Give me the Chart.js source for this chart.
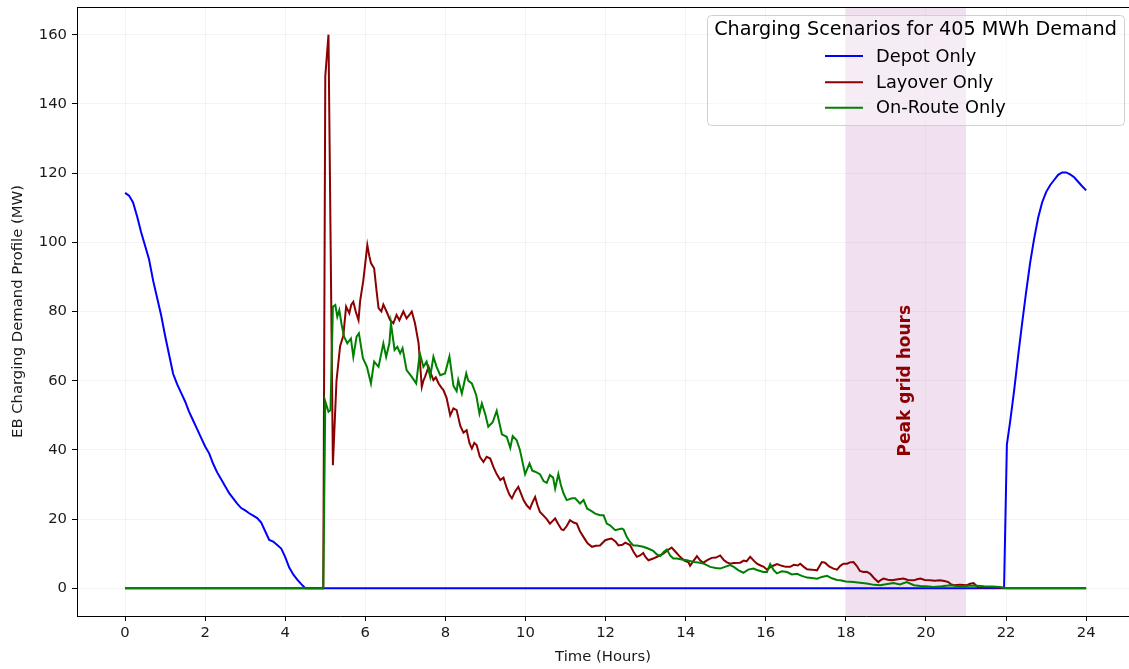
<!DOCTYPE html>
<html>
<head>
<meta charset="utf-8">
<script src="https://cdn.jsdelivr.net/npm/chart.js@4"></script>
<style>
  html, body { margin: 0; padding: 0; background: #fff; overflow: hidden; }
  #wrap { width: 1129px; height: 669px; }
</style>
</head>
<body>
<div id="wrap"><canvas id="c" width="1129" height="669"></canvas></div>
<script>
// ---- Data (hours, MW) ----
const depotHours = [0,0.1,0.2,0.3,0.4,0.5,0.6,0.7,0.8,0.9,1.0,1.1,1.2,1.3,1.4,1.5,1.6,1.7,1.8,1.9,2.0,2.1,2.2,2.3,2.4,2.5,2.6,2.7,2.8,2.9,3.0,3.1,3.2,3.3,3.4,3.5,3.6,3.7,3.8,3.9,4.0,4.1,4.2,4.3,4.4,4.5,21.95,22.02,22.1,22.2,22.3,22.4,22.5,22.6,22.7,22.8,22.9,23.0,23.1,23.2,23.3,23.4,23.5,23.6,23.7,23.8,23.9,24.0];
const depotMW = [114.3,113.5,111.5,107.5,103,99,95,89,84,79,73,67.5,62,59,56.5,54,51,48.5,46,43.5,41,39,36,33.5,31.5,29.5,27.5,26,24.5,23.2,22.5,21.7,21,20.3,19,16.5,14,13.5,12.5,11.5,9,6,4,2.5,1.2,0,0,41.5,48,57,67,76.5,85.5,94,101,107,111.5,114.5,116.5,118,119.5,120.2,120.2,119.6,118.8,117.5,116.2,115];

const layoverHours = [0,4.95,5.0,5.08,5.19,5.28,5.37,5.45,5.52,5.6,5.65,5.7,5.76,5.83,5.87,5.95,6.05,6.1,6.14,6.22,6.28,6.33,6.4,6.45,6.53,6.62,6.7,6.78,6.85,6.91,6.95,7.03,7.1,7.16,7.24,7.33,7.41,7.45,7.49,7.58,7.64,7.7,7.76,7.83,7.9,7.95,8.03,8.12,8.2,8.28,8.37,8.45,8.53,8.6,8.66,8.72,8.78,8.86,8.95,9.03,9.12,9.2,9.28,9.37,9.45,9.53,9.6,9.66,9.74,9.82,9.9,9.95,10.03,10.11,10.18,10.24,10.3,10.36,10.45,10.53,10.61,10.68,10.74,10.82,10.9,10.95,11.03,11.11,11.2,11.28,11.36,11.45,11.55,11.66,11.76,11.86,11.99,12.07,12.15,12.25,12.32,12.42,12.49,12.61,12.7,12.78,12.86,12.94,13.0,13.07,13.19,13.3,13.44,13.55,13.65,13.75,13.86,13.97,14.07,14.11,14.2,14.28,14.36,14.44,14.55,14.65,14.76,14.86,14.95,15.03,15.11,15.2,15.36,15.45,15.52,15.61,15.7,15.78,15.87,15.95,16.03,16.12,16.2,16.28,16.4,16.5,16.61,16.7,16.8,16.86,16.95,17.03,17.15,17.28,17.4,17.48,17.58,17.69,17.78,17.86,17.94,18.03,18.1,18.19,18.27,18.35,18.44,18.52,18.61,18.7,18.81,18.87,18.94,19.05,19.15,19.3,19.44,19.55,19.69,19.78,19.86,19.97,20.1,20.22,20.35,20.46,20.56,20.62,20.69,20.85,21.02,21.1,21.19,21.25,21.31,21.5,21.7,21.9,22.0,24.0];
const layoverMW = [0,0,148,160,35.6,60,70,73,81.4,79.5,82,82.8,80,77.5,83,89,99.2,96,94,92.5,86,81,80,82,80,77.5,76.6,79,77.5,79,80,78,79,80,76.6,70.8,58.2,60,61.1,64,62,60.2,61,59.2,58,57.3,55,50,52,51.5,47,45,45.7,42,40.4,42,41.4,38,36.5,38,37.5,35,33,31.3,32,29,27,26,28,29.3,27,25.5,24,23,25,26.4,24,22.1,21,20,18.7,19.5,20.2,18.5,17,16.8,18,19.7,19,18.7,16.5,14.8,13,12,12.3,12.4,13.9,14.2,14.4,13.5,12.4,12.6,13.2,12.5,10.5,9.1,9.5,10.2,9,8.1,8.6,9.2,10,11,11.8,10.5,9.1,8,7.5,6.5,8,9.3,8.1,7.4,8.2,8.8,8.9,9.5,8.2,7.5,7.1,7.3,7.4,8,7.8,9.1,8,7.1,6.6,6.2,5.4,6.2,6.6,7,6.5,6.2,6.2,6.8,6.6,7.1,6.2,5.5,5.4,5.2,7.6,7.4,6.3,5.7,5.4,6.5,7.1,7.1,7.5,7.6,6.5,5,4.7,4.8,4.2,3,1.8,2.4,2.8,2.5,2.3,2.6,2.8,2.4,2.3,2.6,2.8,2.4,2.3,2.2,2.3,2.1,1.8,1.2,0.9,1.0,0.9,1.3,1.5,0.8,0.2,0.4,0.3,0.2,0,0];

const onRouteHours = [0,4.95,5.0,5.08,5.13,5.19,5.25,5.3,5.35,5.41,5.47,5.55,5.64,5.7,5.78,5.84,5.94,6.04,6.14,6.22,6.33,6.45,6.52,6.6,6.64,6.73,6.8,6.87,6.93,7.03,7.16,7.27,7.36,7.45,7.53,7.62,7.7,7.78,7.87,7.99,8.1,8.2,8.28,8.32,8.41,8.52,8.57,8.66,8.77,8.85,8.91,8.99,9.07,9.18,9.28,9.41,9.53,9.62,9.68,9.78,9.86,9.99,10.1,10.17,10.24,10.36,10.45,10.53,10.61,10.69,10.74,10.82,10.88,10.95,11.03,11.16,11.24,11.36,11.45,11.54,11.61,11.74,11.86,11.95,12.03,12.11,12.24,12.4,12.45,12.53,12.61,12.69,12.78,12.94,13.06,13.19,13.28,13.36,13.45,13.53,13.61,13.69,13.78,13.9,14.03,14.2,14.36,14.48,14.61,14.75,14.86,14.98,15.11,15.2,15.32,15.44,15.56,15.69,15.78,15.94,16.03,16.11,16.2,16.28,16.4,16.53,16.65,16.78,16.9,17.03,17.15,17.28,17.4,17.53,17.65,17.78,17.86,18.0,18.1,18.19,18.35,18.52,18.7,18.86,19.0,19.19,19.35,19.52,19.7,19.86,20.0,20.19,20.4,20.61,20.8,21.0,21.2,21.45,21.65,21.85,22.0,24.0];
const onRouteMW = [0,0,54,51,51.5,81.4,81.9,78.5,80.4,76.1,72.7,70.8,72.2,66.9,72.7,73.7,66.5,64,59.2,65.5,64,70.8,66.9,70.8,76.6,68.9,69.8,67.9,69.4,63.1,61.1,59.2,67.9,64,65.5,61.1,66.9,64,61.6,62.1,67,58.5,57,60.2,56.3,62.1,60,59.2,55.8,50.5,53.4,50.5,46.7,48,51.3,44.5,43.8,40.6,44,42.8,40,33,36.1,34,33.7,33,31,30.5,32.7,32,28.8,33,30,27.4,25.5,26,26,24.5,25.5,23,22.6,21.6,21.1,21.1,18.7,18.2,16.8,17.3,17,14.8,13.4,12.4,12.4,12,11.5,10.8,9.8,9.3,10.5,11.2,9.5,8.6,8.6,8.3,8.1,7.6,7.4,7,6.2,5.9,5.7,6.2,6.7,6.2,5.2,4.5,5.4,5.7,5.3,4.7,4.7,7,5.2,4.3,4.9,4.7,4.0,4.2,3.6,3.1,3.0,2.8,3.3,3.6,2.9,2.4,2.3,2.0,1.9,1.8,1.6,1.4,1.0,0.9,1.2,1.5,1.1,1.8,0.9,0.7,0.6,0.4,0.6,0.9,0.6,0.7,0.8,0.6,0.5,0.4,0,0];

const xTickValues = [0,2,4,6,8,10,12,14,16,18,20,22,24];
const yTickValues = [0,20,40,60,80,100,120,140,160];
const seriesNames = ['Depot Only','Layover Only','On-Route Only'];
const seriesColors = ['#0000ff','#8b0000','#008000'];
const peakStart = 18, peakEnd = 21;
const peakLabel = 'Peak grid hours';
const legendTitle = 'Charging Scenarios for 405 MWh Demand';

const toPts = (hs, vs) => hs.map((h, i) => ({x: h, y: vs[i]}));

const FONT = "'DejaVu Sans', sans-serif";

const extras = {
  id: 'extras',
  beforeDatasetsDraw(chart) {
    const {ctx, chartArea: a, scales: {x}} = chart;
    ctx.save();
    ctx.fillStyle = 'rgba(204,153,204,0.3)';
    const x0 = x.getPixelForValue(peakStart), x1 = x.getPixelForValue(peakEnd);
    ctx.fillRect(x0, a.top, x1 - x0, a.bottom - a.top);
    ctx.restore();
  },
  afterDatasetsDraw(chart) {
    const {ctx, scales: {x, y}} = chart;
    ctx.save();
    ctx.translate(x.getPixelForValue(19.5), y.getPixelForValue(60));
    ctx.rotate(-Math.PI / 2);
    ctx.font = "bold 17px " + FONT;
    ctx.fillStyle = '#8b0000';
    ctx.textAlign = 'center';
    ctx.textBaseline = 'middle';
    ctx.fillText(peakLabel, 0, 0);
    ctx.restore();
  },
  afterDraw(chart) {
    const {ctx, chartArea: a} = chart;
    ctx.save();
    // top spine
    ctx.strokeStyle = '#000';
    ctx.lineWidth = 1;
    ctx.beginPath();
    ctx.moveTo(a.left, a.top + 0.5);
    ctx.lineTo(a.right, a.top + 0.5);
    ctx.stroke();
    // legend
    const bx = 707.5, by = 15.5, bw = 417, bh = 110;
    ctx.beginPath();
    ctx.roundRect(bx, by, bw, bh, 4);
    ctx.fillStyle = 'rgba(255,255,255,0.4)';
    ctx.fill();
    ctx.strokeStyle = '#d0d0d0';
    ctx.lineWidth = 1;
    ctx.stroke();
    ctx.fillStyle = '#000';
    ctx.font = "19.2px " + FONT;
    ctx.textAlign = 'center';
    ctx.textBaseline = 'middle';
    ctx.fillText(legendTitle, 915.5, 30);
    const rows = [56, 82.3, 107.7];
    ctx.font = "17.8px " + FONT;
    ctx.textAlign = 'left';
    seriesNames.forEach((n, i) => {
      ctx.strokeStyle = seriesColors[i];
      ctx.lineWidth = 2;
      ctx.beginPath();
      ctx.moveTo(825, rows[i]);
      ctx.lineTo(863, rows[i]);
      ctx.stroke();
      ctx.fillStyle = '#000';
      ctx.fillText(n, 876, rows[i] + 1);
    });
    ctx.restore();
  }
};

new Chart(document.getElementById('c'), {
  type: 'line',
  data: {
    datasets: [
      {label: seriesNames[0], data: toPts(depotHours, depotMW), borderColor: seriesColors[0], order: 2},
      {label: seriesNames[1], data: toPts(layoverHours, layoverMW), borderColor: seriesColors[1], order: 1},
      {label: seriesNames[2], data: toPts(onRouteHours, onRouteMW), borderColor: seriesColors[2], order: 0}
    ].map(d => Object.assign(d, {borderWidth: 2, pointRadius: 0, tension: 0, fill: false}))
  },
  options: {
    responsive: false,
    animation: false,
    devicePixelRatio: 1,
    layout: {padding: {top: 7, left: 0, right: 0, bottom: 0}},
    plugins: {legend: {display: false}, tooltip: {enabled: false}},
    scales: {
      x: {
        type: 'linear', min: -1.2, max: 25.07,
        afterBuildTicks: s => { s.ticks = xTickValues.map(v => ({value: v})); },
        afterFit: s => { s.height = 53; s.paddingLeft = 0; s.paddingRight = 0; },
        ticks: {font: {family: FONT, size: 14.8}, color: '#1a1a1a', padding: 3, maxRotation: 0, autoSkip: false},
        grid: {color: 'rgba(176,176,176,0.15)', tickColor: '#000', tickLength: 5, drawTicks: true},
        border: {display: true, color: '#000', width: 1},
        title: {display: true, text: 'Time (Hours)', font: {family: FONT, size: 14.8}, color: '#1a1a1a', padding: {top: 0, bottom: 3}}
      },
      y: {
        type: 'linear', min: -8, max: 168,
        afterBuildTicks: s => { s.ticks = yTickValues.map(v => ({value: v})); },
        afterFit: s => { s.width = 77; s.paddingTop = 0; s.paddingBottom = 0; },
        ticks: {font: {family: FONT, size: 14.8}, color: '#1a1a1a', padding: 5, autoSkip: false},
        grid: {color: 'rgba(176,176,176,0.15)', tickColor: '#000', tickLength: 5, drawTicks: true},
        border: {display: true, color: '#000', width: 1},
        title: {display: true, text: 'EB Charging Demand Profile (MW)', font: {family: FONT, size: 14.8}, color: '#1a1a1a', padding: {top: 9, bottom: 0}}
      }
    }
  },
  plugins: [extras]
});
</script>
</body>
</html>
